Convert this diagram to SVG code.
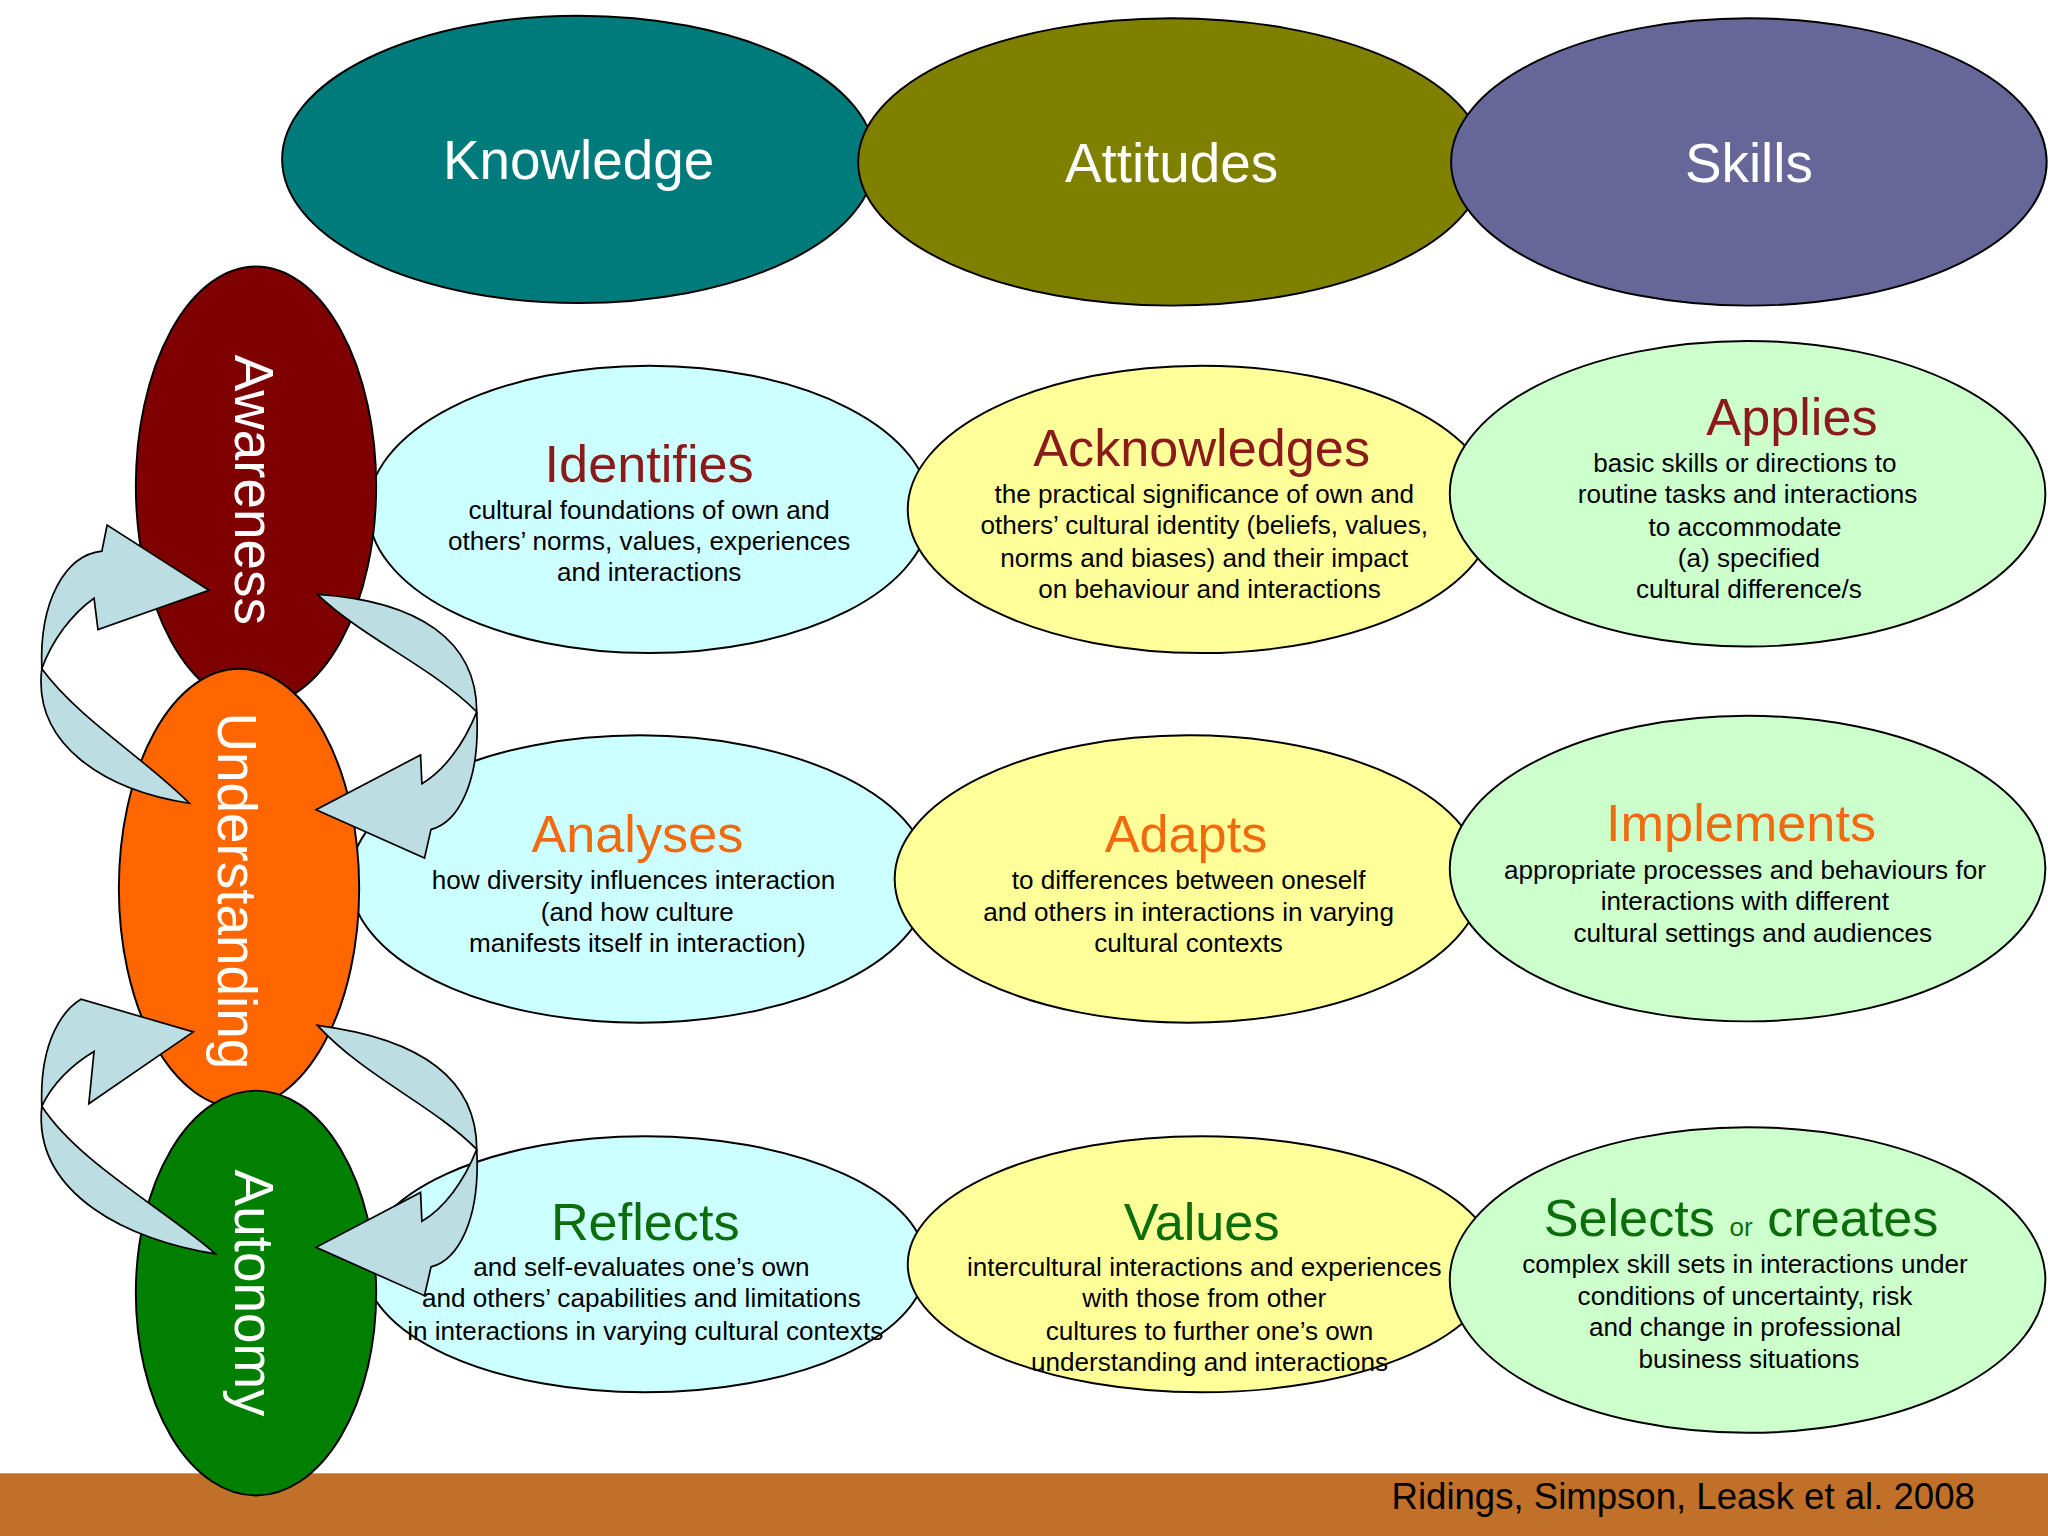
<svg xmlns="http://www.w3.org/2000/svg" width="2048" height="1536" viewBox="0 0 2048 1536">
<style>
.e{stroke:#000;stroke-width:1.5}
.top{font-family:"Liberation Sans",Arial,sans-serif;font-size:42px;fill:#fff;text-anchor:middle}
.t{font-family:"Liberation Sans",Arial,sans-serif;font-size:40px;text-anchor:middle}
.b{font-family:"Liberation Sans",Arial,sans-serif;font-size:20px;fill:#000;text-anchor:middle}
.r1{fill:#8b1a1a}.r2{fill:#f26a10}.r3{fill:#0b6e0b}
.arr{fill:#bcdde2;stroke:#000;stroke-width:1.3}
</style>
<rect width="2048" height="1536" fill="#fff"/>
<g transform="scale(1.30612)">
<rect x="0" y="1128" width="1568" height="48" fill="#c07028"/>
<text x="1512" y="1155" font-family="Liberation Sans,Arial,sans-serif" font-size="28" text-anchor="end" fill="#000">Ridings, Simpson, Leask et al. 2008</text>
<g id="knowledge"><ellipse class="e" cx="443" cy="122" rx="227" ry="110" fill="#007b7b"/><text class="top" x="443" y="137">Knowledge</text></g>
<g id="attitudes"><ellipse class="e" cx="897" cy="124" rx="240" ry="110" fill="#7f7f00"/><text class="top" x="897" y="139">Attitudes</text></g>
<g id="skills"><ellipse class="e" cx="1339" cy="124" rx="228" ry="110" fill="#666699"/><text class="top" x="1339" y="139">Skills</text></g>

<g id="identifies"><ellipse class="e" cx="497" cy="390" rx="215" ry="110" fill="#ccffff"/><text class="t r1" x="497" y="369">Identifies</text>
<text class="b" x="497" y="397">cultural foundations of own and</text><text class="b" x="497" y="421">others’ norms, values, experiences</text><text class="b" x="497" y="445">and interactions</text></g>
<g id="acknowledges"><ellipse class="e" cx="920" cy="390" rx="225" ry="110" fill="#ffff99"/><text class="t r1" x="920" y="357">Acknowledges</text>
<text class="b" x="922" y="385">the practical significance of own and</text><text class="b" x="922" y="409">others’ cultural identity (beliefs, values,</text><text class="b" x="922" y="434">norms and biases) and their impact</text><text class="b" x="926" y="458">on behaviour and interactions</text></g>
<g id="applies"><ellipse class="e" cx="1338" cy="378" rx="228" ry="117" fill="#ccffcc"/><text class="t r1" x="1372" y="333">Applies</text>
<text class="b" x="1336" y="361">basic skills or directions to</text><text class="b" x="1338" y="385">routine tasks and interactions</text><text class="b" x="1336" y="410">to accommodate</text><text class="b" x="1339" y="434">(a) specified</text><text class="b" x="1339" y="458">cultural difference/s</text></g>

<g id="analyses"><ellipse class="e" cx="490" cy="673" rx="222" ry="110" fill="#ccffff"/><text class="t r2" x="488" y="652">Analyses</text>
<text class="b" x="485" y="681">how diversity influences interaction</text><text class="b" x="488" y="705">(and how culture</text><text class="b" x="488" y="729">manifests itself in interaction)</text></g>
<g id="adapts"><ellipse class="e" cx="910" cy="673" rx="225" ry="110" fill="#ffff99"/><text class="t r2" x="908" y="652">Adapts</text>
<text class="b" x="910" y="681">to differences between oneself</text><text class="b" x="910" y="705">and others in interactions in varying</text><text class="b" x="910" y="729">cultural contexts</text></g>
<g id="implements"><ellipse class="e" cx="1338" cy="665" rx="228" ry="117" fill="#ccffcc"/><text class="t r2" x="1333" y="644">Implements</text>
<text class="b" x="1336" y="673">appropriate processes and behaviours for</text><text class="b" x="1336" y="697">interactions with different</text><text class="b" x="1342" y="721">cultural settings and audiences</text></g>

<g id="reflects"><ellipse class="e" cx="494" cy="968" rx="215" ry="98" fill="#ccffff"/><text class="t r3" x="494" y="949">Reflects</text>
<text class="b" x="491" y="977">and self-evaluates one’s own</text><text class="b" x="491" y="1001">and others’ capabilities and limitations</text><text class="b" x="494" y="1026">in interactions in varying cultural contexts</text></g>
<g id="values"><ellipse class="e" cx="920" cy="968" rx="225" ry="98" fill="#ffff99"/><text class="t r3" x="920" y="949">Values</text>
<text class="b" x="922" y="977">intercultural interactions and experiences</text><text class="b" x="922" y="1001">with those from other</text><text class="b" x="926" y="1026">cultures to further one’s own</text><text class="b" x="926" y="1050">understanding and interactions</text></g>
<g id="selects"><ellipse class="e" cx="1338" cy="980" rx="228" ry="117" fill="#ccffcc"/><text class="t r3" x="1333" y="946">Selects <tspan font-size="20">or</tspan> creates</text>
<text class="b" x="1336" y="975">complex skill sets in interactions under</text><text class="b" x="1336" y="999">conditions of uncertainty, risk</text><text class="b" x="1336" y="1023">and change in professional</text><text class="b" x="1339" y="1047">business situations</text></g>

<g id="awareness"><ellipse class="e" cx="196" cy="372" rx="92" ry="168" fill="#7f0000"/><text class="top" transform="translate(180,375) rotate(90)">Awareness</text></g>
<g id="understanding"><ellipse class="e" cx="183" cy="680" rx="92" ry="168" fill="#ff6600"/><text class="top" transform="translate(167,682) rotate(90)">Understanding</text></g>
<g id="autonomy"><ellipse class="e" cx="196" cy="990" rx="92" ry="155" fill="#007f00"/><text class="top" transform="translate(180,990) rotate(90)">Autonomy</text></g>

<g id="connectors">
<g id="pair1">
<path class="arr" d="M32,512 C30,460 50,425 78,422 L82,402 L160,452 L75,482 L72,458 C55,470 40,490 32,512 Z"/>
<path class="arr" d="M32,512 C25,570 80,605 145,615 C110,580 60,550 32,512 Z"/>
<path class="arr" d="M243,455 C320,460 365,490 365,545 C330,510 280,490 243,455 Z"/>
<path class="arr" d="M365,545 C368,600 350,630 330,635 L325,657 L242,620 L322,578 L323,600 C340,590 355,570 365,545 Z"/>
</g>
<g id="pair2" transform="translate(0,335)">
<path class="arr" d="M32,512 C30,460 50,437 62,430 L62,430 L148,455 L68,510 L72,470 C55,480 40,495 32,512 Z"/>
<path class="arr" d="M32,512 C25,580 100,615 165,625 C125,590 60,555 32,512 Z"/>
<path class="arr" d="M243,450 C320,460 365,490 365,545 C330,510 280,490 243,450 Z"/>
<path class="arr" d="M365,545 C368,600 350,630 330,635 L325,657 L242,620 L322,578 L323,600 C340,590 355,570 365,545 Z"/>
</g>
</g>
</g>
</svg>
